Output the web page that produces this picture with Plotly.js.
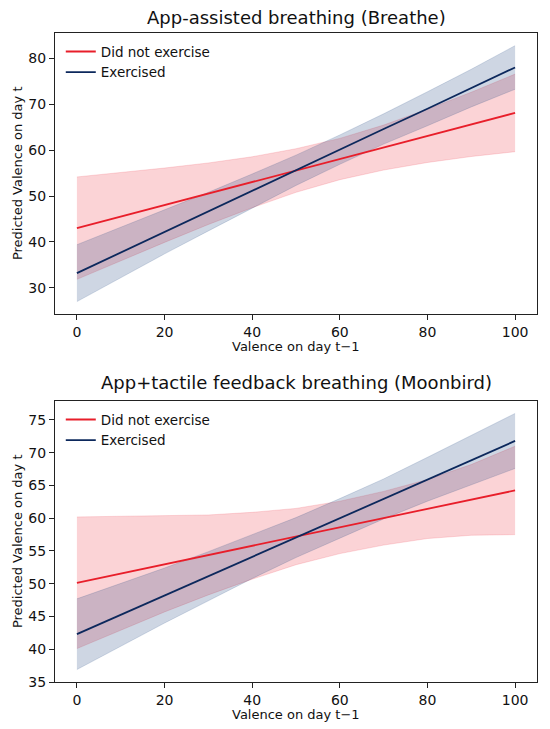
<!DOCTYPE html>
<html>
<head>
<meta charset="utf-8">
<script src="https://cdn.plot.ly/plotly-3.0.1.min.js"></script>
<style>html,body{margin:0;padding:0;background:#fff;}#chart{width:550px;height:729px;}</style>
</head>
<body>
<div id="chart"></div>
<script>
// ---- data ----
const xGrid = [0, 10, 20, 30, 40, 50, 60, 70, 80, 90, 100];

// Panel 1: App-assisted breathing (Breathe)
const breatheNoExMean  = [43.0, 45.5, 48.0, 50.5, 53.0, 55.55, 58.05, 60.55, 63.1, 65.6, 68.1];
const breatheNoExUpper = [54.15, 55.1, 56.1, 57.2, 58.55, 60.3, 62.55, 65.45, 68.9, 72.6, 76.55];
const breatheNoExLower = [31.85, 35.9, 39.9, 43.8, 47.45, 50.8, 53.55, 55.65, 57.3, 58.6, 59.65];
const breatheExMean    = [33.2, 37.7, 42.2, 46.6, 51.1, 55.6, 60.1, 64.6, 69.0, 73.5, 78.0];
const breatheExUpper   = [39.4, 43.2, 47.0, 50.8, 54.8, 58.9, 63.3, 67.9, 72.7, 77.6, 82.75];
const breatheExLower   = [27.0, 32.2, 37.4, 42.4, 47.4, 52.3, 56.9, 61.3, 65.3, 69.4, 73.25];

// Panel 2: App+tactile feedback breathing (Moonbird)
const moonNoExMean  = [50.15, 51.56, 52.97, 54.38, 55.79, 57.2, 58.61, 60.02, 61.43, 62.84, 64.25];
const moonNoExUpper = [60.2, 60.3, 60.3, 60.5, 60.9, 61.5, 62.6, 64.1, 65.9, 68.2, 71.0];
const moonNoExLower = [40.1, 42.9, 45.7, 48.3, 50.7, 52.9, 54.6, 55.9, 56.9, 57.4, 57.5];
const moonExMean    = [42.3, 45.25, 48.2, 51.15, 54.1, 57.05, 60.0, 62.95, 65.9, 68.85, 71.8];
const moonExUpper   = [47.7, 50.0, 52.4, 54.9, 57.5, 60.1, 63.0, 66.0, 69.3, 72.6, 76.0];
const moonExLower   = [36.9, 40.5, 44.0, 47.4, 50.8, 54.0, 57.0, 59.9, 62.6, 65.1, 67.6];

const seriesNames = ['Did not exercise', 'Exercised'];
const panelTitles = ['App-assisted breathing (Breathe)', 'App+tactile feedback breathing (Moonbird)'];
const xTitle = 'Valence on day t\u22121';
const yTitle = 'Predicted Valence on day t';
const xTicks = [0, 20, 40, 60, 80, 100];
const yTicksTop = [30, 40, 50, 60, 70, 80];
const yTicksBottom = [35, 40, 45, 50, 55, 60, 65, 70, 75];

// ---- styles ----
const RED = 'rgb(232,30,42)';
const NAVY = 'rgb(12,40,92)';
const RED_FILL = 'rgba(235,35,50,0.2)';
const NAVY_FILL = 'rgba(30,68,128,0.22)';
const FONT = 'DejaVu Sans';

function band(lower, upper, fill, xa, ya) {
  return [
    {x: xGrid, y: lower, type: 'scatter', mode: 'lines', xaxis: xa, yaxis: ya,
     line: {color: fill, width: 0.8}, showlegend: false, hoverinfo: 'skip'},
    {x: xGrid, y: upper, type: 'scatter', mode: 'lines', xaxis: xa, yaxis: ya,
     fill: 'tonexty', fillcolor: fill,
     line: {color: fill, width: 0.8}, showlegend: false, hoverinfo: 'skip'}
  ];
}
function meanLine(y, color, name, xa, ya, lg) {
  return {x: xGrid, y: y, type: 'scatter', mode: 'lines', xaxis: xa, yaxis: ya,
    name: name, legend: lg, line: {color: color, width: 1.8}};
}

const data = [].concat(
  band(breatheNoExLower, breatheNoExUpper, RED_FILL, 'x', 'y'),
  band(breatheExLower, breatheExUpper, NAVY_FILL, 'x', 'y'),
  [meanLine(breatheNoExMean, RED, seriesNames[0], 'x', 'y', 'legend'),
   meanLine(breatheExMean, NAVY, seriesNames[1], 'x', 'y', 'legend')],
  band(moonNoExLower, moonNoExUpper, RED_FILL, 'x2', 'y2'),
  band(moonExLower, moonExUpper, NAVY_FILL, 'x2', 'y2'),
  [meanLine(moonNoExMean, RED, seriesNames[0], 'x2', 'y2', 'legend2'),
   meanLine(moonExMean, NAVY, seriesNames[1], 'x2', 'y2', 'legend2')]
);

const axisCommon = {
  showgrid: false, zeroline: false, showline: true, mirror: true,
  linecolor: '#222', linewidth: 1, ticks: 'outside', ticklen: 5, tickwidth: 1,
  tickcolor: '#222', tickfont: {family: FONT, size: 14, color: '#111'}
};

const legendCommon = {xanchor: 'left', yanchor: 'top', bgcolor: 'rgba(0,0,0,0)',
  traceorder: 'normal', font: {family: FONT, size: 13.5, color: '#111'}, tracegroupgap: 0};

const layout = {
  width: 550, height: 729,
  margin: {l: 55, r: 13, t: 33, b: 47},
  paper_bgcolor: '#fff', plot_bgcolor: '#fff',
  font: {family: FONT, color: '#111'},
  xaxis: Object.assign({}, axisCommon, {domain: [0, 1], anchor: 'y', range: [-5, 105],
    tickvals: xTicks}),
  yaxis: Object.assign({}, axisCommon, {domain: [0.567, 1], anchor: 'x', range: [24.3, 85.5],
    tickvals: yTicksTop}),
  xaxis2: Object.assign({}, axisCommon, {domain: [0, 1], anchor: 'y2', range: [-5, 105],
    tickvals: xTicks}),
  yaxis2: Object.assign({}, axisCommon, {domain: [0, 0.433], anchor: 'x2', range: [35.0, 77.9],
    tickvals: yTicksBottom}),
  legend: Object.assign({}, legendCommon, {x: 0.012, y: 0.995}),
  legend2: Object.assign({}, legendCommon, {x: 0.012, y: 0.428}),
  annotations: [
    {text: panelTitles[0], xref: 'paper', yref: 'paper', x: 0.5, y: 1.024,
     xanchor: 'center', yanchor: 'middle', showarrow: false, font: {family: FONT, size: 18, color: '#111'}},
    {text: panelTitles[1], xref: 'paper', yref: 'paper', x: 0.5, y: 0.461,
     xanchor: 'center', yanchor: 'middle', showarrow: false, font: {family: FONT, size: 18, color: '#111'}},
    {text: xTitle, xref: 'paper', yref: 'paper', x: 0.5, y: (682 - 347) / 649,
     xanchor: 'center', yanchor: 'middle', showarrow: false, font: {family: FONT, size: 13, color: '#111'}},
    {text: xTitle, xref: 'paper', yref: 'paper', x: 0.5, y: (682 - 714) / 649,
     xanchor: 'center', yanchor: 'middle', showarrow: false, font: {family: FONT, size: 13, color: '#111'}},
    {text: yTitle, xref: 'paper', yref: 'paper', x: (17.6 - 55) / 482, y: (682 - 173.5) / 649,
     xanchor: 'center', yanchor: 'middle', textangle: -90, showarrow: false, font: {family: FONT, size: 13, color: '#111'}},
    {text: yTitle, xref: 'paper', yref: 'paper', x: (17.6 - 55) / 482, y: (682 - 541.5) / 649,
     xanchor: 'center', yanchor: 'middle', textangle: -90, showarrow: false, font: {family: FONT, size: 13, color: '#111'}}
  ]
};

Plotly.newPlot('chart', data, layout, {displayModeBar: false, staticPlot: true});
</script>
</body>
</html>
